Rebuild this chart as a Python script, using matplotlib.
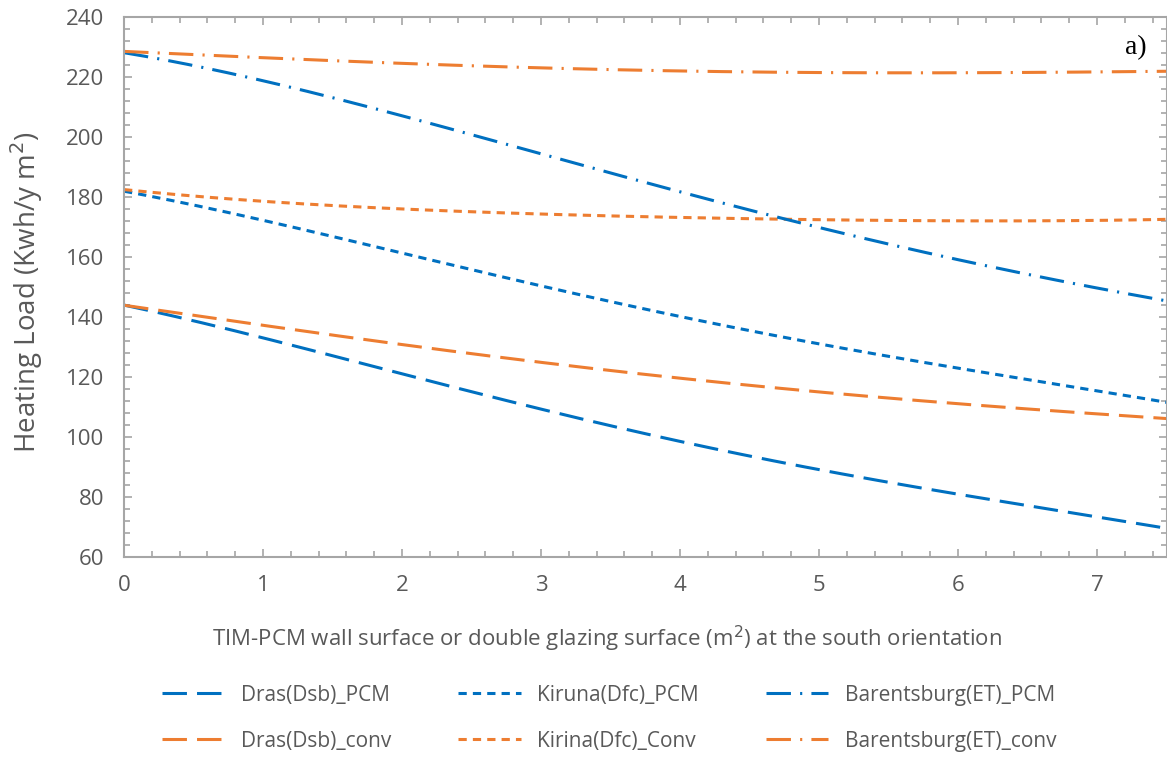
import numpy as np
import matplotlib.pyplot as plt
from matplotlib.ticker import MultipleLocator

x = [0, 1, 2, 3, 4, 5, 6, 7, 7.5]

dras_pcm = [144, 133, 121, 109.5, 98.5, 89, 81, 73.5, 69.5]
dras_conv = [144, 137, 131, 125, 119.5, 115, 111, 108, 106]
kiruna_pcm = [182, 172, 161.5, 150.5, 140, 131, 123, 115.5, 111.5]
kirina_conv = [182.5, 178.5, 176, 174.5, 173, 172.5, 172, 172.3, 172.5]
barents_pcm = [228, 219, 207, 194, 182, 170, 159, 149.5, 145.5]
barents_conv = [228.5, 226.5, 224.5, 223, 222, 221.5, 221.5, 221.5, 222]

blue = '#0070C0'
orange = '#ED7D31'
grey = '#595959'

plt.rcParams['font.family'] = ['Open Sans', 'DejaVu Sans']

fig = plt.figure(figsize=(11.67, 7.61), dpi=100)
ax = fig.add_axes([0.1063, 0.268, 0.8933, 0.7097])

lw = 2.2
dash = (8, 3.3)
dot = (2.7, 2)
dashdot = (8, 3, 0.7, 3)

series = [
    (dras_pcm, blue, dash, 'Dras(Dsb)_PCM'),
    (dras_conv, orange, dash, 'Dras(Dsb)_conv'),
    (kiruna_pcm, blue, dot, 'Kiruna(Dfc)_PCM'),
    (kirina_conv, orange, dot, 'Kirina(Dfc)_Conv'),
    (barents_pcm, blue, dashdot, 'Barentsburg(ET)_PCM'),
    (barents_conv, orange, dashdot, 'Barentsburg(ET)_conv'),
]

xs = np.linspace(0, 7.5, 200)
handles = []
for ys, col, ds, lab in series:
    # smooth like Excel's smoothed lines
    c = np.polyfit(x, ys, 4)
    yy = np.polyval(c, xs)
    h, = ax.plot(xs, yy, color=col, lw=lw, dashes=ds, label=lab)
    handles.append(h)

ax.set_xlim(0, 7.5)
ax.set_ylim(60, 240)
ax.xaxis.set_major_locator(MultipleLocator(1))
ax.xaxis.set_minor_locator(MultipleLocator(0.2))
ax.yaxis.set_major_locator(MultipleLocator(20))
ax.yaxis.set_minor_locator(MultipleLocator(4))

for s in ax.spines.values():
    s.set_color('#A6A6A6')
    s.set_linewidth(1.5)
ax.tick_params(which='both', direction='in', top=True, right=True, color='#A6A6A6', width=1.2,
               labelcolor=grey, labelsize=16)
ax.tick_params(which='major', length=6)
ax.tick_params(which='minor', length=4)
ax.tick_params(axis='x', pad=13)
ax.tick_params(axis='y', pad=14)

ax.set_xlabel('TIM-PCM wall surface or double glazing surface (m$^2$) at the south orientation',
              color=grey, fontsize=16)
ax.xaxis.set_label_coords(0.463, -0.124)
ax.set_ylabel('Heating Load (Kwh/y m$^2$)', color=grey, fontsize=20)
ax.yaxis.set_label_coords(-0.076, 0.49)

ax.text(0.981, 0.944, 'a)', transform=ax.transAxes, ha='right', va='center',
        fontsize=20, family='Liberation Serif', color='black')

leg = fig.legend(handles=handles, loc='center', bbox_to_anchor=(0.522, 0.0565), ncol=3,
                 frameon=False, fontsize=15, handlelength=3.0, columnspacing=3.2,
                 labelspacing=1.2, handletextpad=0.8)
for t in leg.get_texts():
    t.set_color(grey)

fig.savefig('out.png', dpi=100)
